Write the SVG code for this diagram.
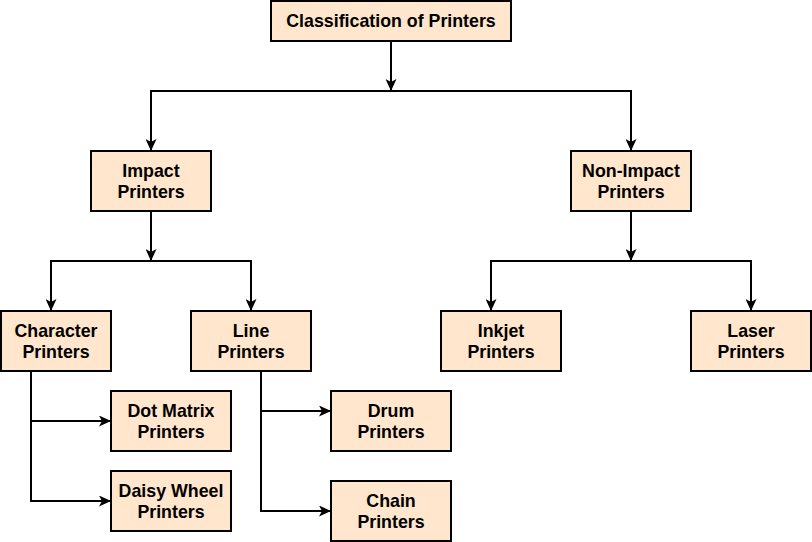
<svg xmlns="http://www.w3.org/2000/svg" width="812" height="542" viewBox="0 0 812 542">
<style>
.box{fill:#ffe6cc;stroke:#000;stroke-width:2}
.t{font-family:"Liberation Sans",Arial,sans-serif;font-weight:bold;font-size:17.8px;fill:#000;text-anchor:middle}
.c{fill:none;stroke:#000;stroke-width:2}
</style>
<defs>
<marker id="a" markerUnits="userSpaceOnUse" viewBox="0 0 12 11" refX="12" refY="5.5" markerWidth="12" markerHeight="11" orient="auto">
<path d="M0,0 L12,5.5 L0,11 L3,5.5 Z" fill="#000"/>
</marker>
</defs>
<rect width="812" height="542" fill="#fff"/>
<g id="connectors">
<path class="c" d="M391,41 V91" marker-end="url(#a)"/>
<path class="c" d="M391,91 H151 V151" marker-end="url(#a)"/>
<path class="c" d="M391,91 H631 V151" marker-end="url(#a)"/>
<path class="c" d="M151,211 V261" marker-end="url(#a)"/>
<path class="c" d="M151,261 H51 V311" marker-end="url(#a)"/>
<path class="c" d="M151,261 H251 V311" marker-end="url(#a)"/>
<path class="c" d="M631,211 V261" marker-end="url(#a)"/>
<path class="c" d="M631,261 H491 V311" marker-end="url(#a)"/>
<path class="c" d="M631,261 H751 V311" marker-end="url(#a)"/>
<path class="c" d="M31,371 V421 H111" marker-end="url(#a)"/>
<path class="c" d="M31,421 V501 H111" marker-end="url(#a)"/>
<path class="c" d="M261,371 V411 H331" marker-end="url(#a)"/>
<path class="c" d="M261,411 V511 H331" marker-end="url(#a)"/>
</g>
<g id="classification"><rect class="box" x="271" y="1" width="240" height="40"/><text class="t" x="391" y="27.3">Classification of Printers</text></g>
<g id="impact"><rect class="box" x="91" y="151" width="120" height="60"/><text class="t" x="151" y="176.8">Impact</text><text class="t" x="151" y="197.5">Printers</text></g>
<g id="nonimpact"><rect class="box" x="571" y="151" width="120" height="60"/><text class="t" x="631" y="176.8">Non-Impact</text><text class="t" x="631" y="197.5">Printers</text></g>
<g id="character"><rect class="box" x="1" y="311" width="110" height="60"/><text class="t" x="56" y="336.8">Character</text><text class="t" x="56" y="357.5">Printers</text></g>
<g id="line"><rect class="box" x="191" y="311" width="120" height="60"/><text class="t" x="251" y="336.8">Line</text><text class="t" x="251" y="357.5">Printers</text></g>
<g id="inkjet"><rect class="box" x="441" y="311" width="120" height="60"/><text class="t" x="501" y="336.8">Inkjet</text><text class="t" x="501" y="357.5">Printers</text></g>
<g id="laser"><rect class="box" x="691" y="311" width="120" height="60"/><text class="t" x="751" y="336.8">Laser</text><text class="t" x="751" y="357.5">Printers</text></g>
<g id="dotmatrix"><rect class="box" x="111" y="391" width="120" height="60"/><text class="t" x="171" y="416.8">Dot Matrix</text><text class="t" x="171" y="437.5">Printers</text></g>
<g id="daisywheel"><rect class="box" x="111" y="471" width="120" height="60"/><text class="t" x="171" y="496.8">Daisy Wheel</text><text class="t" x="171" y="517.5">Printers</text></g>
<g id="drum"><rect class="box" x="331" y="391" width="120" height="60"/><text class="t" x="391" y="416.8">Drum</text><text class="t" x="391" y="437.5">Printers</text></g>
<g id="chain"><rect class="box" x="331" y="481" width="120" height="60"/><text class="t" x="391" y="506.8">Chain</text><text class="t" x="391" y="527.5">Printers</text></g>
</svg>
